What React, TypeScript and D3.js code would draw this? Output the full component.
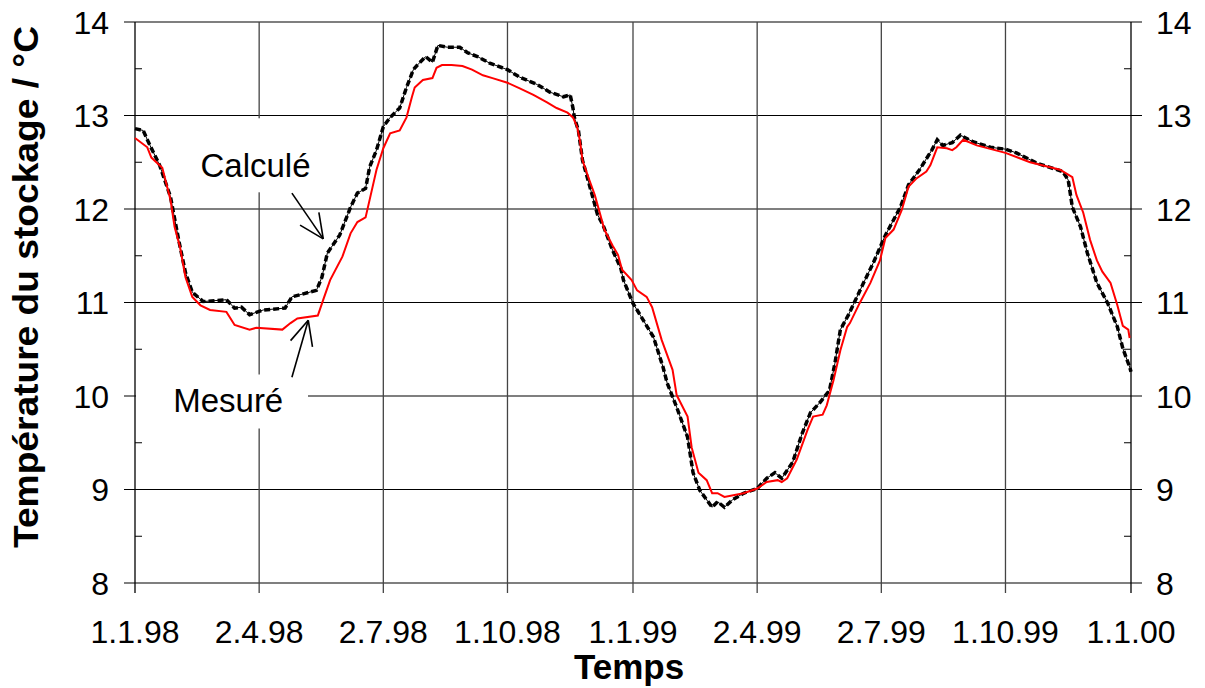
import React, { useEffect, useRef } from "react";
import * as d3 from "d3";

// days since 1.1.98 and storage temperature (°C)
const measuredDays = [0, 9, 12, 20, 26, 29, 33, 37, 42, 48, 55, 67, 73, 84, 89, 108, 114, 119, 134, 138, 143, 152, 158, 163, 169, 172, 177, 182, 187, 194, 199, 203, 205, 211, 218, 221, 225, 232, 240, 247, 255, 262, 273, 282, 292, 302, 309, 317, 321, 324, 326, 328, 333, 337, 341, 344, 350, 354, 357, 364, 368, 375, 379, 386, 394, 397, 405, 408, 413, 419, 423, 427, 432, 446, 456, 463, 471, 474, 478, 485, 493, 497, 504, 507, 512, 517, 522, 524, 531, 539, 546, 550, 556, 562, 567, 573, 580, 583, 588, 595, 599, 602, 607, 617, 638, 656, 678, 687, 690, 695, 700, 705, 709, 715, 720, 724, 728, 729];
const measuredTemp = [12.76, 12.66, 12.55, 12.44, 12.1, 11.81, 11.59, 11.27, 11.06, 10.97, 10.92, 10.9, 10.76, 10.71, 10.73, 10.71, 10.78, 10.83, 10.86, 11.03, 11.24, 11.49, 11.74, 11.86, 11.91, 12.1, 12.42, 12.65, 12.81, 12.84, 12.98, 13.2, 13.3, 13.38, 13.4, 13.51, 13.54, 13.54, 13.53, 13.49, 13.43, 13.4, 13.35, 13.29, 13.22, 13.14, 13.08, 13.03, 12.98, 12.88, 12.74, 12.52, 12.31, 12.15, 11.94, 11.78, 11.61, 11.51, 11.35, 11.24, 11.13, 11.06, 10.95, 10.6, 10.28, 10.01, 9.78, 9.45, 9.18, 9.1, 8.96, 8.96, 8.92, 8.96, 9.01, 9.08, 9.1, 9.08, 9.12, 9.32, 9.64, 9.78, 9.8, 9.9, 10.17, 10.49, 10.74, 10.78, 10.99, 11.21, 11.45, 11.69, 11.78, 11.99, 12.24, 12.33, 12.4, 12.47, 12.66, 12.65, 12.63, 12.66, 12.74, 12.68, 12.6, 12.5, 12.42, 12.34, 12.15, 11.96, 11.67, 11.45, 11.33, 11.21, 10.97, 10.75, 10.71, 10.62];

const calcDays = [0, 6, 10, 18, 26, 32, 37, 42, 50, 67, 73, 78, 84, 94, 110, 115, 133, 137, 141, 150, 158, 163, 169, 172, 177, 182, 187, 194, 199, 204, 207, 213, 218, 222, 229, 238, 244, 251, 260, 273, 282, 295, 304, 314, 319, 321, 322, 325, 328, 333, 339, 343, 350, 356, 358, 365, 368, 380, 387, 390, 397, 405, 409, 414, 423, 427, 432, 438, 446, 456, 463, 469, 474, 482, 489, 495, 502, 509, 513, 517, 523, 534, 541, 550, 561, 567, 575, 584, 588, 592, 599, 605, 614, 627, 638, 646, 661, 680, 684, 687, 693, 698, 705, 713, 720, 724, 729, 730];
const calcTemp = [12.86, 12.84, 12.71, 12.47, 12.13, 11.67, 11.32, 11.11, 11.01, 11.03, 10.94, 10.95, 10.87, 10.92, 10.94, 11.06, 11.13, 11.27, 11.53, 11.72, 12.02, 12.17, 12.22, 12.45, 12.63, 12.88, 12.98, 13.08, 13.3, 13.49, 13.54, 13.63, 13.57, 13.75, 13.73, 13.73, 13.67, 13.63, 13.56, 13.49, 13.41, 13.33, 13.25, 13.2, 13.22, 13.08, 12.98, 12.84, 12.52, 12.26, 11.94, 11.83, 11.56, 11.37, 11.24, 10.99, 10.92, 10.63, 10.31, 10.14, 9.88, 9.56, 9.18, 8.99, 8.81, 8.87, 8.81, 8.89, 8.96, 9.01, 9.12, 9.18, 9.12, 9.29, 9.6, 9.82, 9.93, 10.06, 10.35, 10.71, 10.87, 11.21, 11.42, 11.72, 12.02, 12.26, 12.42, 12.63, 12.74, 12.68, 12.71, 12.79, 12.72, 12.66, 12.64, 12.6, 12.49, 12.4, 12.31, 12.02, 11.81, 11.53, 11.21, 10.99, 10.74, 10.51, 10.31, 10.26];

const tickDates = ["1998-01-01", "1998-04-02", "1998-07-02", "1998-10-01", "1999-01-01", "1999-04-02", "1999-07-02", "1999-10-01", "2000-01-01"];
const tickLabels = ["1.1.98", "2.4.98", "2.7.98", "1.10.98", "1.1.99", "2.4.99", "2.7.99", "1.10.99", "1.1.00"];
const yTicks = [8, 9, 10, 11, 12, 13, 14];
const yMinor = [8.5, 9.5, 10.5, 11.5, 12.5, 13.5];

const W = 1205;
const H = 688;
const FONT = "'Liberation Sans', Arial, Helvetica, sans-serif";

export default function App() {
  const svgRef = useRef<SVGSVGElement>(null);

  useEffect(() => {
    const svg = d3.select(svgRef.current);
    svg.selectAll("*").remove();

    const left = 135, right = 1131, top = 22, bottom = 583;
    const parse = d3.utcParse("%Y-%m-%d");
    const t0 = parse("1998-01-01")!.getTime();
    const toDate = (d: number) => new Date(t0 + d * 86400000);

    const x = d3.scaleUtc().domain([parse("1998-01-01")!, parse("2000-01-01")!]).range([left, right]);
    const y = d3.scaleLinear().domain([8, 14]).range([bottom, top]);

    // grid
    svg.append("g").selectAll("line").data(yTicks).enter().append("line")
      .attr("x1", left - 11).attr("x2", right + 11)
      .attr("y1", (d) => y(d)).attr("y2", (d) => y(d))
      .attr("stroke", "#000").attr("stroke-width", 1.2);

    svg.append("g").selectAll("line").data(tickDates).enter().append("line")
      .attr("x1", (d) => x(parse(d)!)).attr("x2", (d) => x(parse(d)!))
      .attr("y1", top).attr("y2", bottom + 10)
      .attr("stroke", (d, i) => (i === 0 || i === tickDates.length - 1 ? "#000" : "#444"))
      .attr("stroke-width", 1.3);

    // minor ticks
    svg.append("g").selectAll("line").data(yMinor).enter().append("line")
      .attr("x1", left).attr("x2", left + 7)
      .attr("y1", (d) => y(d)).attr("y2", (d) => y(d))
      .attr("stroke", "#000");
    svg.append("g").selectAll("line").data(yMinor).enter().append("line")
      .attr("x1", right - 7).attr("x2", right)
      .attr("y1", (d) => y(d)).attr("y2", (d) => y(d))
      .attr("stroke", "#000");

    // tick labels
    const lab = svg.append("g").attr("font-family", FONT).attr("font-size", 32).attr("fill", "#000");
    lab.selectAll(".yl").data(yTicks).enter().append("text")
      .attr("x", 109).attr("y", (d) => y(d)).attr("dy", "0.36em")
      .attr("text-anchor", "end").text((d) => d);
    lab.selectAll(".yr").data(yTicks).enter().append("text")
      .attr("x", 1156).attr("y", (d) => y(d)).attr("dy", "0.36em")
      .attr("text-anchor", "start").text((d) => d);
    lab.selectAll(".xl").data(tickDates).enter().append("text")
      .attr("x", (d) => x(parse(d)!)).attr("y", 643)
      .attr("text-anchor", "middle").text((d, i) => tickLabels[i]);

    // axis titles
    svg.append("text").attr("font-family", FONT).attr("font-weight", "bold").attr("font-size", 35)
      .attr("text-anchor", "middle").attr("transform", `translate(38,287) rotate(-90)`)
      .attr("textLength", 522).attr("lengthAdjust", "spacingAndGlyphs")
      .text("Température du stockage / °C");
    svg.append("text").attr("font-family", FONT).attr("font-weight", "bold").attr("font-size", 35)
      .attr("text-anchor", "middle").attr("x", (left + right) / 2 - 4).attr("y", 679)
      .text("Temps");

    // label boxes (hide gridlines behind the labels)
    svg.append("rect").attr("x", x(toDate(39))).attr("y", y(12.97)).attr("width", 134).attr("height", 74).attr("fill", "#fff");
    svg.append("rect").attr("x", left + 1).attr("y", y(10.23)).attr("width", 172).attr("height", 54).attr("fill", "#fff");

    // series
    const line = d3.line<[number, number]>().x((d) => x(toDate(d[0]))).y((d) => y(d[1]));
    const calc = calcDays.map((d, i) => [d, calcTemp[i]] as [number, number]);
    const meas = measuredDays.map((d, i) => [d, measuredTemp[i]] as [number, number]);

    svg.append("path").attr("d", line(calc)).attr("fill", "none").attr("stroke", "#000").attr("stroke-width", 1);
    svg.append("path").attr("d", line(calc)).attr("fill", "none").attr("stroke", "#000")
      .attr("stroke-width", 3.5).attr("stroke-dasharray", "6,3");
    svg.append("path").attr("d", line(meas)).attr("fill", "none").attr("stroke", "#ff0000").attr("stroke-width", 2);

    // annotations
    const ann = svg.append("g").attr("font-family", FONT).attr("font-size", 33).attr("fill", "#000");
    ann.append("text").attr("x", x(toDate(48))).attr("y", y(12.34)).text("Calculé");
    ann.append("text").attr("x", x(toDate(28))).attr("y", y(9.83)).text("Mesuré");

    const arrow = (tail: [number, number], tip: [number, number]) => {
      const x1 = x(toDate(tail[0])), y1 = y(tail[1]);
      const x2 = x(toDate(tip[0])), y2 = y(tip[1]);
      const a = Math.atan2(y1 - y2, x1 - x2);
      const len = 27, spread = (25 * Math.PI) / 180;
      const g = svg.append("g").attr("stroke", "#000").attr("stroke-width", 1.6).attr("fill", "none");
      g.append("line").attr("x1", x1).attr("y1", y1).attr("x2", x2).attr("y2", y2);
      [a - spread, a + spread].forEach((b) => {
        g.append("line").attr("x1", x2).attr("y1", y2)
          .attr("x2", x2 + len * Math.cos(b)).attr("y2", y2 + len * Math.sin(b));
      });
    };
    arrow([115, 12.17], [138, 11.68]);
    arrow([115, 10.2], [127, 10.81]);
  }, []);

  return (
    <svg ref={svgRef} width={W} height={H} style={{ position: "absolute", left: 0, top: 0, background: "#fff" }} />
  );
}
